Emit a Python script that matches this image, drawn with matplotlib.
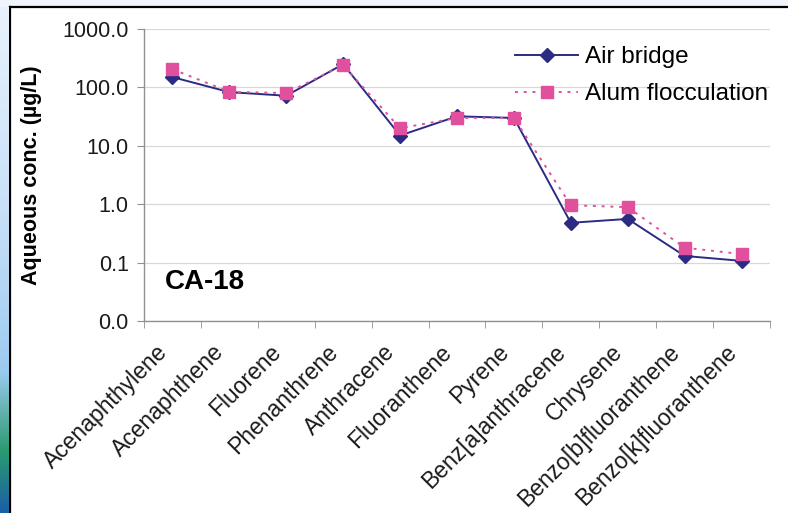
import matplotlib
matplotlib.use('Agg')
import matplotlib.pyplot as plt
import matplotlib.transforms as mtransforms
import numpy as np
from matplotlib.patches import Rectangle
from matplotlib.lines import Line2D

compounds = ['Acenaphthylene', 'Acenaphthene', 'Fluorene', 'Phenanthrene',
             'Anthracene', 'Fluoranthene', 'Pyrene', 'Benz[a]anthracene',
             'Chrysene', 'Benzo[b]fluoranthene', 'Benzo[k]fluoranthene']
air_bridge = [150, 83, 72, 250, 15, 32, 30, 0.48, 0.56, 0.13, 0.107]
alum_floc = [205, 84, 80, 240, 20, 30, 30, 0.96, 0.89, 0.18, 0.14]
ytick_vals = [0.01, 0.1, 1, 10, 100, 1000]
ytick_labels = ['0.0', '0.1', '1.0', '10.0', '100.0', '1000.0']

plt.rcParams['font.family'] = ['Liberation Sans', 'DejaVu Sans']

fig = plt.figure(figsize=(7.88, 5.13), dpi=100)
fig.patch.set_facecolor('#eef5fc')

# white panel with black frame (top and left edges)
W, H = 788.0, 513.0
fig.patches.append(Rectangle((10 / W, 0), 1 - 10 / W, 1 - 7 / H, transform=fig.transFigure,
                             facecolor='white', edgecolor='none', zorder=-5))
fig.lines.append(Line2D([10 / W, 10 / W], [0, 1 - 7 / H], transform=fig.transFigure,
                        color='black', lw=1.6, zorder=-4))
fig.lines.append(Line2D([10 / W, 1], [1 - 7 / H, 1 - 7 / H], transform=fig.transFigure,
                        color='black', lw=1.6, zorder=-4))

# decorative gradient strip on the left
strip = fig.add_axes([0, 0, 9 / W, 1 - 7 / H])
grad = np.linspace(0, 1, 256).reshape(-1, 1)
cmap = matplotlib.colors.LinearSegmentedColormap.from_list(
    'strip', [(0, '#1a5fa8'), (0.12, '#2a9a70'), (0.28, '#9ccbf0'),
              (0.6, '#c8e0f8'), (1, '#e8f2fc')])
strip.imshow(grad, aspect='auto', cmap=cmap, origin='lower', extent=[0, 1, 0, 1])
strip.axis('off')

ax = fig.add_axes([144 / W, 1 - 321 / H, 626 / W, 292 / H])
ax.patch.set_alpha(0)
x = np.arange(len(compounds))

ax.plot(x, air_bridge, color='#2b2b84', lw=1.4, marker='D', markersize=7,
        label='Air bridge', zorder=3)
ax.plot(x, alum_floc, color='#e0509c', lw=1.4, ls=(0, (1.5, 3)), marker='s', markersize=8,
        label='Alum flocculation', zorder=4)

ax.set_yscale('log')
ax.set_ylim(0.01, 1000)
ax.set_yticks(ytick_vals)
ax.set_yticklabels(ytick_labels)
ax.yaxis.set_minor_locator(matplotlib.ticker.NullLocator())
ax.set_xlim(-0.5, len(compounds) - 0.5)
ax.set_xticks(x)
ax.set_xticklabels(compounds, rotation=45, ha='right', va='top', rotation_mode='anchor')
ax.set_xticks(np.arange(len(compounds) + 1) - 0.5, minor=True)
ax.tick_params(axis='x', which='major', length=0, labelsize=16.5, pad=14, colors='#1a1a1a')
ax.tick_params(axis='x', which='minor', length=5, color='#909090', direction='out')
ax.tick_params(axis='y', length=5, color='#909090', labelsize=15.5, colors='#1a1a1a', pad=6)

# nudge rotated labels to the left, as in the original
shift = mtransforms.ScaledTranslation(-17 / 100, 0, fig.dpi_scale_trans)
for lbl in ax.get_xticklabels():
    lbl.set_transform(lbl.get_transform() + shift)

ax.grid(axis='y', which='major', color='#d8d8d8', lw=0.9)
ax.set_axisbelow(True)
for s in ['top', 'right']:
    ax.spines[s].set_visible(False)
for s in ['left', 'bottom']:
    ax.spines[s].set_color('#909090')
    ax.spines[s].set_linewidth(1.0)

ax.set_ylabel('Aqueous conc. (µg/L)', fontsize=15.5, fontweight='bold', labelpad=15)
ax.text(165 / W, 1 - 282 / H, 'CA-18', transform=fig.transFigure, fontsize=20,
        fontweight='bold', va='center', ha='left')

fig.legend(loc='upper left', bbox_to_anchor=(515 / W, 1 - 46 / H), frameon=False,
           fontsize=17.5, handlelength=2.6, handletextpad=0.3, labelspacing=0.62,
           borderpad=0, borderaxespad=0)

fig.savefig('out.png', dpi=100, facecolor=fig.get_facecolor())
